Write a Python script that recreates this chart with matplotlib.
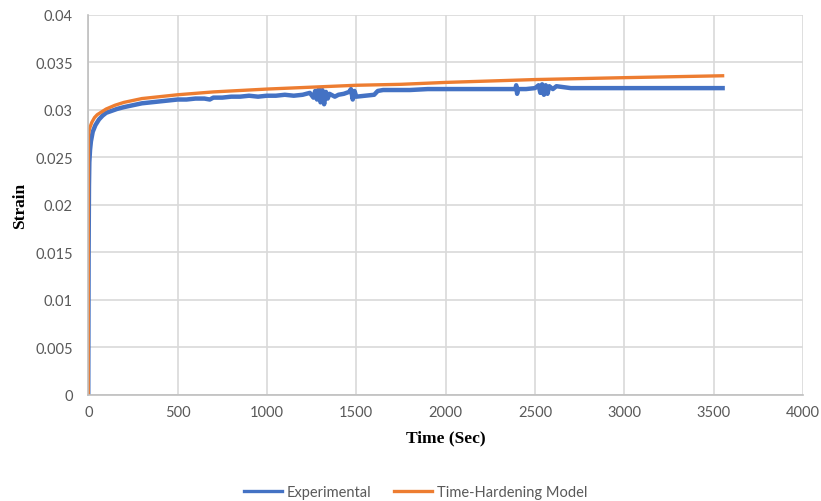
import matplotlib
matplotlib.use("Agg")
import matplotlib.pyplot as plt

# Experimental (spikes included)
exp_time = [0, 2, 4, 6, 10, 15, 25, 40, 60, 80, 100, 130, 160, 200, 250, 300,
            350, 400, 450, 500, 550, 600, 650, 680, 700, 750, 800, 850, 900,
            950, 1000, 1050, 1100, 1150, 1200, 1240, 1260, 1270, 1280, 1290,
            1300, 1310, 1320, 1330, 1340, 1350, 1380, 1400, 1430, 1460, 1470,
            1480, 1490, 1500, 1550, 1600, 1620, 1650, 1700, 1800, 1900, 2000,
            2100, 2200, 2300, 2390, 2395, 2400, 2405, 2450, 2500, 2520, 2530,
            2540, 2550, 2560, 2570, 2580, 2600, 2620, 2700, 2800, 2900, 3000,
            3100, 3200, 3300, 3400, 3500, 3550]
exp_strain = [0.0, 0.015, 0.022, 0.0245, 0.0258, 0.0267, 0.0277, 0.0284, 0.0290,
              0.0294, 0.0297, 0.0299, 0.0301, 0.0303, 0.0305, 0.0307, 0.0308,
              0.0309, 0.0310, 0.0311, 0.0311, 0.0312, 0.0312, 0.0311, 0.0313,
              0.0313, 0.0314, 0.0314, 0.0315, 0.0314, 0.0315, 0.0315, 0.0316,
              0.0315, 0.0316, 0.0318, 0.0313, 0.0320, 0.0311, 0.0322, 0.0308,
              0.0321, 0.0306, 0.0319, 0.0312, 0.0317, 0.0314, 0.0316, 0.0317,
              0.0319, 0.0322, 0.0311, 0.0320, 0.0314, 0.0315, 0.0316, 0.0320,
              0.0321, 0.0321, 0.0321, 0.0322, 0.0322, 0.0322, 0.0322, 0.0322,
              0.0322, 0.0326, 0.0317, 0.0322, 0.0322, 0.0323, 0.0326, 0.0318,
              0.0327, 0.0316, 0.0326, 0.0317, 0.0325, 0.0322, 0.0325, 0.0323,
              0.0323, 0.0323, 0.0323, 0.0323, 0.0323, 0.0323, 0.0323, 0.0323,
              0.0323]

# Time-hardening model
mod_time = [0, 1, 3, 6, 10, 20, 35, 50, 75, 100, 150, 200, 300, 400, 500, 700,
            1000, 1250, 1500, 1750, 2000, 2500, 3000, 3550]
mod_strain = [0.0, 0.0272, 0.0276, 0.0279, 0.0282, 0.0287, 0.0292, 0.0295,
              0.0298, 0.0301, 0.0305, 0.0308, 0.0312, 0.0314, 0.0316, 0.0319,
              0.0322, 0.0324, 0.0326, 0.0327, 0.0329, 0.0332, 0.0334, 0.0336]

x_ticks = [0, 500, 1000, 1500, 2000, 2500, 3000, 3500, 4000]
y_ticks = [0, 0.005, 0.01, 0.015, 0.02, 0.025, 0.03, 0.035, 0.04]
y_labels = ["0", "0.005", "0.01", "0.015", "0.02", "0.025", "0.03", "0.035", "0.04"]

blue = "#4472C4"
orange = "#ED7D31"
grid_c = "#D9D9D9"
txt_c = "#595959"

fig = plt.figure(figsize=(8.21, 5.02), dpi=100)
ax = fig.add_axes([0.1075, 0.2112, 0.8706, 0.757])

ax.plot(exp_time, exp_strain, color=blue, lw=3.2, label="Experimental",
        solid_joinstyle="round")
ax.plot(mod_time, mod_strain, color=orange, lw=2.4, label="Time-Hardening Model")

ax.set_xlim(0, 4000)
ax.set_ylim(0, 0.04)
ax.set_xticks(x_ticks)
ax.set_xticklabels([str(t) for t in x_ticks])
ax.set_yticks(y_ticks)
ax.set_yticklabels(y_labels)
ax.grid(True, color=grid_c, lw=1.2)
ax.set_axisbelow(True)
for s in ["top", "right"]:
    ax.spines[s].set_visible(False)
for s in ["left", "bottom"]:
    ax.spines[s].set_color("#BFBFBF")
    ax.spines[s].set_linewidth(1.2)

ax.tick_params(axis="both", length=0, labelsize=10.5, labelcolor=txt_c)
ax.tick_params(axis="y", pad=11)
ax.tick_params(axis="x", pad=7)
for lab in ax.get_xticklabels() + ax.get_yticklabels():
    lab.set_fontfamily("Lato")

ax.set_xlabel("Time (Sec)", fontfamily="Liberation Serif", fontweight="bold",
              fontsize=12.5, labelpad=8)
ax.set_ylabel("Strain", fontfamily="Liberation Serif", fontweight="bold",
              fontsize=12.5, labelpad=5)

leg = fig.legend(loc="lower center", bbox_to_anchor=(0.506, -0.022), ncol=2,
                 frameon=False, handlelength=2.6, columnspacing=1.6,
                 handletextpad=0.3, prop={"family": "Lato", "size": 10.5})
for t in leg.get_texts():
    t.set_color(txt_c)
for h in leg.get_lines():
    h.set_linewidth(2.4)

fig.savefig("out.png", dpi=100)
